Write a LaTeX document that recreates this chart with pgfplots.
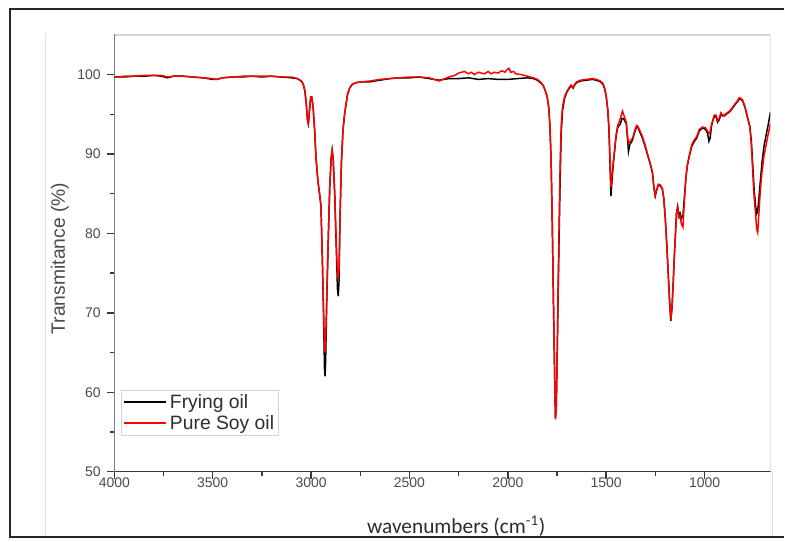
\documentclass[border=0pt]{standalone}
\usepackage{pgfplots}
\pgfplotsset{compat=1.18}
\usepackage{fontspec}
\setmainfont{Liberation Sans}
\newfontfamily\calibri{Carlito}
\definecolor{tickgray}{HTML}{4A4A4A}
\definecolor{axisdark}{HTML}{3A3A3A}
\definecolor{framegray}{HTML}{D4D4D4}
\definecolor{xlabcol}{HTML}{262C3A}
\definecolor{legtext}{HTML}{2E2E2E}
\begin{document}
\begin{tikzpicture}
% pixel frame: 1px = 0.75pt, origin = top-left of image
\begin{scope}[shift={(-85.875pt,354.225pt)}, x=0.75pt, y=-0.75pt]
\path[use as bounding box] (0,0) rectangle (785,539);
\end{scope}
\begin{axis}[
  at={(0,0)}, anchor=south west,
  scale only axis, width=492.75pt, height=328pt,
  x dir=reverse, xmin=665, xmax=4000, ymin=50, ymax=105,
  xtick={1000,1500,2000,2500,3000,3500,4000},
  ytick={50,60,70,80,90,100},
  minor x tick num=1, minor y tick num=1,
  xtick pos=bottom, ytick pos=left,
  tick align=outside,
  major tick length=5.25pt, minor tick length=3pt,
  every tick/.style={axisdark, line width=1.1pt},
  axis line style={draw=none},
  /pgf/number format/assume math mode=true,
  /pgf/number format/1000 sep={},
  tick label style={font=\fontsize{10.5}{12}\selectfont, text=tickgray},
  xticklabel style={yshift=4.5pt},
  yticklabel style={xshift=-1.5pt},
  ylabel={Transmitance (\%)},
  ylabel style={at={(axis description cs:-0.083,0.488)}, anchor=center, font=\fontsize{14.5}{16}\selectfont, text=tickgray},
  xlabel={\calibri wavenumbers (cm\textsuperscript{-1})},
  xlabel style={at={(axis description cs:0.521,-0.125)}, anchor=center, font=\fontsize{16}{18}\selectfont, text=xlabcol},
  legend style={at={(axis description cs:0.0099,0.082)}, anchor=south west,
    draw=framegray, line width=0.8pt, fill=white,
    font=\fontsize{14.5}{16}\selectfont,
    inner sep=1pt, row sep=0pt, cells={anchor=west}},
  legend image code/.code={\draw[line width=1.5pt,#1] (0pt,0pt) -- (32pt,0pt);},
]
\addplot[black, line width=1.1pt] coordinates {
(4000,99.7)(3950,99.7)(3900,99.8)(3850,99.8)(3800,99.9)(3760,99.8)(3730,99.6)(3700,99.8)(3650,99.8)(3600,99.7)(3550,99.6)(3500,99.4)(3480,99.4)(3450,99.6)(3400,99.7)(3350,99.7)(3300,99.8)(3250,99.7)(3200,99.8)(3150,99.7)(3100,99.6)(3070,99.5)(3050,99.2)(3040,98.8)(3032,98.0)(3025,96.5)(3018,94.2)(3014,93.8)(3008,95.5)(3002,97.2)(2997,97.2)(2990,96.0)(2982,93.0)(2975,89.5)(2965,86.5)(2958,85.2)(2950,83.5)(2943,77)(2937,70)(2932,63)(2929,62)(2926,64)(2920,72)(2912,80)(2905,86)(2898,89.5)(2893,90.5)(2888,89.5)(2880,85)(2873,79)(2866,73)(2862,72.1)(2858,74)(2853,82)(2846,88.9)(2838,93)(2829,95.2)(2815,97.5)(2804,98.3)(2790,98.8)(2770,99.0)(2740,99.1)(2700,99.1)(2650,99.3)(2600,99.5)(2550,99.6)(2500,99.6)(2450,99.7)(2400,99.5)(2350,99.3)(2300,99.5)(2250,99.5)(2200,99.6)(2150,99.4)(2100,99.5)(2050,99.4)(2000,99.4)(1950,99.5)(1900,99.6)(1870,99.5)(1850,99.3)(1835,99.0)(1820,98.6)(1810,98.0)(1800,97.2)(1792,95.8)(1786,93.5)(1780,89)(1774,81)(1768,71)(1762,62)(1758,56.8)(1754,58)(1749,65)(1744,73)(1739,80)(1734,87)(1729,92.5)(1722,95.5)(1712,97)(1700,97.8)(1690,98.2)(1679,98.6)(1668,98.3)(1660,98.7)(1650,99.0)(1630,99.2)(1600,99.3)(1570,99.4)(1550,99.3)(1530,99.1)(1517,98.8)(1508,98.2)(1500,97.2)(1492,95.5)(1486,93.0)(1481,89)(1476,84.7)(1471,86.5)(1465,88.5)(1459,90.0)(1450,92.2)(1442,93.3)(1435,93.6)(1428,93.8)(1420,94.5)(1414,94.5)(1406,94.2)(1398,93.8)(1392,92.0)(1387,90.3)(1380,91.2)(1372,91.5)(1366,91.8)(1356,92.7)(1346,93.4)(1340,93.4)(1330,92.8)(1316,92.0)(1303,91.0)(1290,89.9)(1277,88.8)(1265,87.6)(1258,85.8)(1251,84.7)(1243,85.5)(1235,86.1)(1225,86.0)(1215,85.6)(1208,84.5)(1200,82)(1192,78.5)(1185,75)(1178,71.5)(1172,69.0)(1166,70.5)(1160,73.5)(1154,77)(1148,80)(1143,82.5)(1137,83.4)(1131,82.4)(1125,82.6)(1118,81.9)(1110,82.3)(1103,84.5)(1095,87)(1088,88.5)(1078,89.7)(1065,91.0)(1052,91.6)(1040,92.0)(1027,92.9)(1010,93.3)(995,93.1)(985,92.6)(978,91.6)(972,92.0)(965,93.5)(958,94.2)(951,94.7)(942,94.7)(934,94.0)(926,94.3)(917,95.0)(908,94.8)(900,94.8)(890,95.0)(874,95.3)(860,95.7)(849,96.1)(836,96.5)(824,96.9)(815,96.9)(807,96.7)(795,95.9)(782,94.6)(770,93.5)(762,91.5)(755,88.5)(748,85.5)(741,83.5)(735,82.5)(730,82.8)(724,84.5)(717,86.5)(708,89)(698,91)(688,92.3)(676,93.8)(665,95.3)
};
\addlegendentry{\textcolor{legtext}{Frying oil}}
\addplot[red, line width=1.1pt] coordinates {
(4000,99.7)(3950,99.8)(3900,99.8)(3850,99.9)(3800,99.9)(3760,99.9)(3730,99.7)(3700,99.8)(3650,99.8)(3600,99.7)(3550,99.6)(3500,99.5)(3480,99.4)(3450,99.6)(3400,99.7)(3350,99.8)(3300,99.8)(3250,99.8)(3200,99.8)(3150,99.7)(3100,99.7)(3070,99.5)(3050,99.2)(3040,98.8)(3032,98.0)(3025,96.5)(3018,94.2)(3014,93.8)(3008,95.5)(3002,97.2)(2997,97.2)(2990,96.0)(2982,93.0)(2975,89.5)(2965,86.5)(2958,85.2)(2950,83.5)(2943,77)(2937,70.5)(2932,66)(2929,65)(2926,66.5)(2920,72.5)(2912,80)(2905,86)(2898,89.5)(2893,90.5)(2888,89.5)(2880,85)(2873,79.5)(2866,75)(2862,74.2)(2858,75.5)(2853,82)(2846,88.9)(2838,93)(2829,95.2)(2815,97.5)(2804,98.3)(2790,98.8)(2770,99.0)(2740,99.1)(2700,99.2)(2650,99.4)(2600,99.5)(2550,99.6)(2500,99.7)(2450,99.7)(2400,99.6)(2350,99.2)(2320,99.5)(2300,99.7)(2270,99.9)(2250,100.2)(2220,100.4)(2200,100.1)(2185,100.3)(2170,100.0)(2150,100.3)(2120,100.1)(2100,100.4)(2085,100.1)(2070,100.3)(2050,100.2)(2030,100.5)(2015,100.3)(2005,100.6)(1995,100.8)(1985,100.3)(1970,100.4)(1960,100.1)(1930,100.0)(1900,99.8)(1870,99.6)(1850,99.4)(1835,99.1)(1820,98.6)(1810,98.0)(1800,97.2)(1792,95.8)(1786,93.5)(1780,89)(1774,81)(1768,71)(1762,62)(1758,56.6)(1754,58)(1749,65)(1744,74)(1739,82)(1734,89)(1729,93.5)(1722,96)(1712,97.2)(1700,97.9)(1690,98.3)(1679,98.7)(1668,98.4)(1660,98.8)(1650,99.1)(1630,99.3)(1600,99.4)(1570,99.5)(1550,99.4)(1530,99.2)(1517,98.9)(1508,98.3)(1500,97.3)(1492,95.6)(1486,93.2)(1481,89.5)(1476,85.8)(1471,87.2)(1465,88.8)(1459,90.2)(1450,92.4)(1442,93.6)(1435,94.0)(1428,94.5)(1420,95.2)(1417,95.4)(1412,95.0)(1406,94.6)(1398,94.0)(1392,92.5)(1387,91.3)(1380,91.6)(1372,91.8)(1366,92.0)(1356,92.9)(1346,93.6)(1340,93.5)(1330,93.0)(1316,92.2)(1303,91.2)(1290,90.0)(1277,88.9)(1265,87.7)(1258,85.9)(1251,84.8)(1243,85.6)(1235,86.2)(1225,86.1)(1215,85.7)(1208,84.6)(1200,82)(1192,78.5)(1185,75)(1178,71.5)(1172,69.2)(1166,70.5)(1160,73.5)(1154,77)(1148,80)(1143,82.5)(1137,83.2)(1131,82.0)(1125,82.2)(1118,81.2)(1110,80.8)(1103,84.0)(1095,87)(1088,88.6)(1078,89.8)(1065,91.2)(1052,91.8)(1040,92.2)(1027,93.1)(1010,93.4)(995,93.3)(985,92.9)(978,92.6)(972,92.8)(965,93.7)(958,94.3)(951,94.9)(942,94.9)(934,94.2)(926,94.5)(917,95.2)(908,94.9)(900,94.9)(890,95.1)(874,95.4)(860,95.8)(849,96.2)(836,96.6)(824,97.1)(815,97.0)(807,96.8)(795,96.0)(782,94.7)(770,93.4)(762,91.0)(755,87.5)(748,84.5)(741,82.5)(735,80.5)(730,80.1)(724,82.5)(717,85.3)(708,87.8)(698,89.8)(688,91.1)(676,92.6)(665,93.9)
};
\addlegendentry{\textcolor{legtext}{Pure Soy oil}}
% axis frame lines
\draw[framegray, line width=1.1pt] (rel axis cs:0,1) -- (rel axis cs:1,1) -- (rel axis cs:1,0);
\draw[axisdark, line width=1.5pt] (rel axis cs:0,1.003) -- (rel axis cs:0,0) -- (rel axis cs:1,0);
\end{axis}
\begin{scope}[shift={(-85.875pt,354.225pt)}, x=0.75pt, y=-0.75pt]
\draw[framegray!70, line width=0.8pt] (45.7,33) -- (45.7,539);
\draw[framegray!70, line width=0.8pt] (773.5,472) -- (773.5,539);
\draw[black!85, line width=1.5pt] (785,9) -- (10,9) -- (10,537.5) -- (785,537.5);
\end{scope}
\end{tikzpicture}
\end{document}
